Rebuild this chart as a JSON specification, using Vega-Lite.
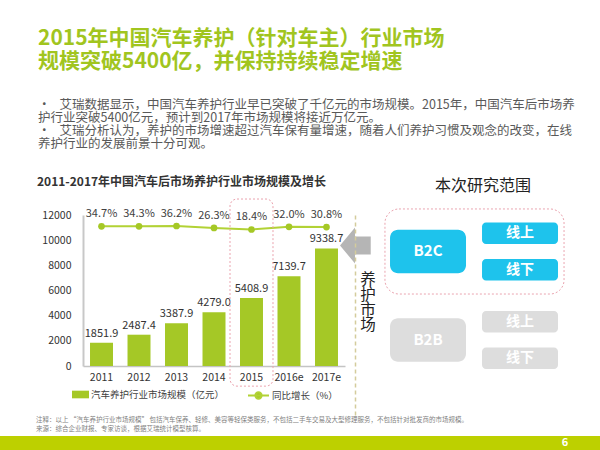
{
  "$schema": "https://vega.github.io/schema/vega-lite/v6.json",
  "padding": {"top": 27, "left": 0, "right": 0, "bottom": 0},
  "background": "white",
  "title": {
    "text": ["2015年中国汽车养护（针对车主）行业市场", "规模突破5400亿，并保持持续稳定增速"],
    "subtitle": [
      "•\u2002\u00a0艾瑞数据显示，中国汽车养护行业早已突破了千亿元的市场规模。2015年，中国汽车后市场养",
      "\u3000\u00a0护行业突破5400亿元，预计到2017年市场规模将接近万亿元。",
      "•\u2002\u00a0艾瑞分析认为，养护的市场增速超过汽车保有量增速，随着人们养护习惯及观念的改变，在线",
      "\u3000\u00a0养护行业的发展前景十分可观。"
    ],
    "anchor": "start",
    "frame": "bounds",
    "dx": 38,
    "fontSize": 21,
    "fontWeight": "bold",
    "color": "#a1c51f",
    "lineHeight": 23.5,
    "subtitleFontSize": 12.5,
    "subtitleColor": "#595959",
    "subtitleLineHeight": 12.8,
    "subtitlePadding": 27,
    "offset": 25.5
  },
  "columns": 1,
  "align": "none",
  "spacing": 1,
  "concat": [
    {
      "hconcat": [
        {
          "width": 262,
          "height": 151,
          "title": {
            "text": "2011-2017年中国汽车后市场养护行业市场规模及增长",
            "fontSize": 12,
            "fontWeight": "bold",
            "color": "#333333",
            "anchor": "start",
            "frame": "bounds",
            "dx": 37,
            "baseline": "bottom",
            "offset": -2
          },
          "data": {
            "values": [
              {"年份": "2011", "规模": 1851.9, "增长": 0.347},
              {"年份": "2012", "规模": 2487.4, "增长": 0.343},
              {"年份": "2013", "规模": 3387.9, "增长": 0.362},
              {"年份": "2014", "规模": 4279.0, "增长": 0.263},
              {"年份": "2015", "规模": 5408.9, "增长": 0.184},
              {"年份": "2016e", "规模": 7139.7, "增长": 0.320},
              {"年份": "2017e", "规模": 9338.7, "增长": 0.308}
            ]
          },
          "encoding": {
            "x": {
              "field": "年份",
              "type": "nominal",
              "sort": null,
              "scale": {"paddingInner": 0.387, "paddingOuter": 0.187},
              "axis": {
                "title": null,
                "labelAngle": 0,
                "labelFontSize": 10.5,
                "labelColor": "#333333",
                "labelPadding": 6,
                "ticks": false,
                "domainColor": "#c4c4c4",
                "domainWidth": 1.5
              }
            }
          },
          "layer": [
            {
              "encoding": {
                "y": {
                  "field": "规模",
                  "type": "quantitative",
                  "scale": {"domain": [0, 12000], "nice": false},
                  "axis": {
                    "title": null,
                    "values": [0, 2000, 4000, 6000, 8000, 10000, 12000],
                    "format": "d",
                    "labelFontSize": 10.5,
                    "labelColor": "#333333",
                    "labelPadding": 12,
                    "ticks": false,
                    "grid": false,
                    "domainColor": "#c8c8c8",
                    "domainWidth": 2,
                    "minExtent": 83,
                    "maxExtent": 83
                  }
                }
              },
              "layer": [
                {
                  "mark": {"type": "bar"},
                  "encoding": {
                    "fill": {
                      "datum": "汽车养护行业市场规模（亿元）",
                      "type": "nominal",
                      "scale": {"range": ["#a5c826"]},
                      "legend": {
                        "title": null,
                        "orient": "none",
                        "legendX": -11,
                        "legendY": 171,
                        "padding": 0,
                        "symbolType": "M-1,-0.45L1,-0.45L1,0.45L-1,0.45Z",
                        "symbolSize": 289,
                        "symbolStrokeWidth": 0,
                        "labelFontSize": 9.5,
                        "labelColor": "#404040",
                        "labelOffset": 2
                      }
                    }
                  }
                },
                {
                  "mark": {"type": "text", "baseline": "bottom", "dy": -4, "fontSize": 11, "color": "#333333"},
                  "encoding": {
                    "text": {"field": "规模", "type": "quantitative", "format": ".1f"}
                  }
                }
              ]
            },
            {
              "encoding": {
                "y": {
                  "field": "增长",
                  "type": "quantitative",
                  "scale": {"domain": [-6.75, 0.92], "nice": false, "zero": false},
                  "axis": null
                }
              },
              "layer": [
                {
                  "mark": {"type": "line", "strokeWidth": 2},
                  "encoding": {
                    "stroke": {
                      "datum": "同比增长（%）",
                      "type": "nominal",
                      "scale": {"range": ["#b2d235"]},
                      "legend": {
                        "title": null,
                        "orient": "none",
                        "legendX": 164,
                        "legendY": 169,
                        "padding": 0,
                        "symbolType": "M-1,0L1,0M0.3,0A0.3,0.3,0,1,1,-0.3,0A0.3,0.3,0,1,1,0.3,0",
                        "symbolSize": 441,
                        "symbolStrokeWidth": 2,
                        "symbolFillColor": "#a5c826",
                        "labelFontSize": 9.5,
                        "labelColor": "#404040",
                        "labelOffset": 2,
                        "encode": {"symbols": {"update": {"fill": {"value": "#a5c826"}}}}
                      }
                    }
                  }
                },
                {
                  "mark": {"type": "point", "filled": true, "size": 45, "color": "#a5c826", "opacity": 1}
                },
                {
                  "mark": {"type": "text", "baseline": "middle", "dy": -12, "fontSize": 11, "color": "#404040"},
                  "encoding": {"text": {"field": "增长", "type": "quantitative", "format": ".1%"}}
                }
              ]
            },
            {
              "data": {"values": [{"年份": "2015", "上沿": 13270, "下沿": -1600}]},
              "mark": {
                "type": "bar",
                "width": {"band": 1.87},
                "cornerRadius": 7,
                "fill": "transparent",
                "stroke": "#eaa3ae",
                "strokeDash": [2, 2],
                "strokeWidth": 1
              },
              "encoding": {
                "y": {
                  "field": "上沿",
                  "type": "quantitative",
                  "scale": {"domain": [0, 12000], "nice": false},
                  "axis": null
                },
                "y2": {"field": "下沿"}
              }
            }
          ],
          "resolve": {"scale": {"y": "independent"}}
        },
        {
          "width": 250,
          "height": 200,
          "title": {
            "text": "本次研究范围",
            "fontSize": 16,
            "fontWeight": "normal",
            "color": "#222222",
            "anchor": "middle",
            "dx": 8,
            "baseline": "bottom",
            "offset": -2
          },
          "layer": [
            {
              "data": {"values": [{"模式": "B2C", "范围": "本次研究范围"}]},
              "mark": {
                "type": "rect",
                "height": {"band": 1.466},
                "fill": "transparent",
                "stroke": "#eaa5b0",
                "strokeDash": [2, 2],
                "strokeWidth": 1,
                "cornerRadius": 14
              },
              "encoding": {
                "x": {
                  "field": "范围",
                  "type": "nominal",
                  "scale": {"domain": ["本次研究范围"], "paddingInner": 0, "paddingOuter": 0.198, "align": 0.493},
                  "axis": null
                },
                "y": {
                  "field": "模式",
                  "type": "nominal",
                  "scale": {"domain": ["B2C", "B2B"], "paddingInner": 0.3446, "paddingOuter": 0.302, "align": 0.14},
                  "axis": {
                    "orient": "left",
                    "title": null,
                    "labels": false,
                    "ticks": false,
                    "domain": true,
                    "domainDash": [4, 3],
                    "domainColor": "#d4cc9c",
                    "domainWidth": 1.5,
                    "offset": -5,
                    "minExtent": 0,
                    "maxExtent": 0
                  }
                }
              }
            },
            {
              "layer": [
                {
                  "data": {"values": [{"模式": "B2C", "列": "模式", "状态": "研究"}]},
                  "mark": {
                    "type": "point",
                    "shape": "M-5,-0.6L-3.5,-2.4L-3.5,-1.5L-1.93,-1.5L-1.93,0.3L-3.5,0.3L-3.5,1.2Z",
                    "size": 400,
                    "filled": true,
                    "color": "#b5b5b5",
                    "opacity": 1
                  },
                  "encoding": {
                    "x": {"field": "列", "type": "nominal", "bandPosition": 0},
                    "y": {"field": "模式", "type": "nominal"}
                  }
                },
                {
                  "data": {"values": [{"模式": "B2C", "列": "模式", "标题": ["养", "护", "市", "场"]}]},
                  "mark": {"type": "text", "baseline": "top", "align": "center", "dx": -22, "dy": 22, "fontSize": 15.5, "lineHeight": 15, "color": "#222222"},
                  "encoding": {
                    "x": {"field": "列", "type": "nominal", "bandPosition": 0},
                    "y": {"field": "模式", "type": "nominal"},
                    "text": {"field": "标题"}
                  }
                },
                {
                  "data": {
                    "values": [
                      {"模式": "B2C", "列": "模式", "状态": "研究"},
                      {"模式": "B2B", "列": "模式", "状态": "其他"}
                    ]
                  },
                  "layer": [
                    {
                      "mark": {"type": "rect", "height": {"band": 0.75}, "cornerRadius": 8},
                      "encoding": {
                        "color": {
                          "field": "状态",
                          "type": "nominal",
                          "scale": {"domain": ["研究", "其他"], "range": ["#1ec3ec", "#dddddd"]},
                          "legend": null
                        }
                      }
                    },
                    {
                      "mark": {"type": "text", "color": "#ffffff", "fontWeight": "bold", "fontSize": 15, "baseline": "middle"},
                      "encoding": {"text": {"field": "模式"}}
                    }
                  ],
                  "encoding": {
                    "x": {"field": "列", "type": "nominal"},
                    "y": {"field": "模式", "type": "nominal"}
                  }
                },
                {
                  "data": {
                    "values": [
                      {"模式": "B2C", "渠道": "线上", "列": "渠道", "状态": "研究"},
                      {"模式": "B2C", "渠道": "线下", "列": "渠道", "状态": "研究"},
                      {"模式": "B2B", "渠道": "线上", "列": "渠道", "状态": "其他"},
                      {"模式": "B2B", "渠道": "线下", "列": "渠道", "状态": "其他"}
                    ]
                  },
                  "encoding": {
                    "x": {"field": "列", "type": "nominal"},
                    "y": {"field": "模式", "type": "nominal"},
                    "yOffset": {
                      "field": "渠道",
                      "type": "nominal",
                      "scale": {"domain": ["线上", "线下"], "paddingInner": 0.41, "paddingOuter": 0}
                    }
                  },
                  "layer": [
                    {
                      "mark": {"type": "rect", "cornerRadius": 4},
                      "encoding": {"color": {"field": "状态", "type": "nominal", "legend": null}}
                    },
                    {
                      "mark": {"type": "text", "color": "#ffffff", "fontWeight": "bold", "fontSize": 14, "baseline": "middle"},
                      "encoding": {"text": {"field": "渠道"}}
                    }
                  ]
                }
              ],
              "encoding": {
                "x": {
                  "field": "列",
                  "type": "nominal",
                  "scale": {"domain": ["模式", "渠道"], "paddingInner": 0.174, "paddingOuter": 0.4457, "align": 0.488},
                  "axis": null
                }
              }
            }
          ],
          "resolve": {"scale": {"x": "independent"}, "axis": {"x": "independent"}}
        }
      ],
      "spacing": 5,
      "bounds": "flush",
      "resolve": {
        "scale": {"fill": "independent", "color": "independent", "stroke": "independent"},
        "legend": {"fill": "independent", "color": "independent", "stroke": "independent"}
      }
    },
    {
      "width": 517,
      "height": 14,
      "title": {
        "text": [
          "注释：以上 “汽车养护行业市场规模” 包括汽车保养、轻修、美容等轻保类服务，不包括二手车交易及大型修理服务，不包括针对批发商的市场规模。",
          "来源：综合企业财报、专家访谈，根据艾瑞统计模型核算。"
        ],
        "fontSize": 6.5,
        "fontWeight": "normal",
        "color": "#7f7f7f",
        "anchor": "start",
        "frame": "group",
        "dx": -47,
        "lineHeight": 9,
        "offset": 4
      },
      "data": {"values": [{"页码": "6"}]},
      "layer": [
        {
          "mark": {"type": "rect", "color": "#bdd000"},
          "encoding": {
            "x": {"value": -83},
            "x2": {"value": "width"},
            "y": {"value": 0},
            "y2": {"value": "height"}
          }
        },
        {
          "mark": {"type": "text", "color": "#ffffff", "fontWeight": "bold", "fontSize": 11, "dx": -35, "dy": 7, "baseline": "middle", "align": "center"},
          "encoding": {
            "text": {"field": "页码"},
            "x": {"value": "width"},
            "y": {"value": 0}
          }
        }
      ]
    }
  ],
  "config": {
    "view": {"stroke": null},
    "font": "Noto Sans CJK SC"
  }
}
